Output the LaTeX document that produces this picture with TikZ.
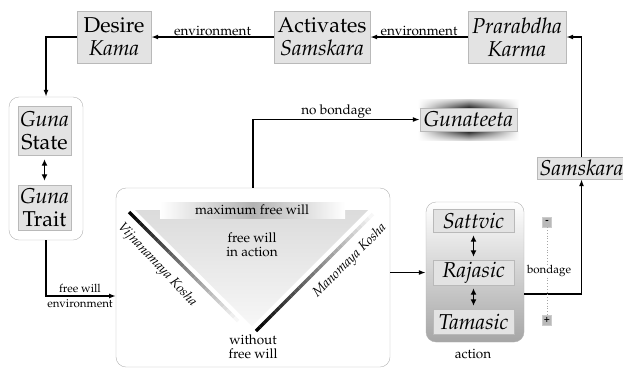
\documentclass[tikz,border=0pt]{standalone}
\usepackage[T1]{fontenc}
\usepackage{mathpazo}
\usetikzlibrary{arrows.meta,fadings,calc}
\tikzfading[name=fadelr, left color=transparent!100, right color=transparent!100, middle color=transparent!0]
\begin{document}
\begin{tikzpicture}[x=1pt,y=-1pt,
  gbox/.style={draw=gray!55, fill=gray!22, inner sep=0pt, align=center, font=\fontsize{21.5}{23}\selectfont},
  lbl/.style={font=\fontsize{13.5}{14.5}\selectfont, inner sep=1pt},
  slbl/.style={font=\fontsize{11.5}{12}\selectfont, inner sep=1pt},
  klbl/.style={font=\fontsize{13.5}{14}\selectfont\itshape, inner sep=0pt},
  arr/.style={-{Latex[length=7pt,width=5pt]}, line width=1.4pt},
  darr/.style={{Latex[length=6.5pt,width=6pt]}-{Latex[length=6.5pt,width=6pt]}, line width=1.5pt},
  rbox/.style={draw=gray!60, rounded corners=10pt, inner sep=0pt}]
\useasboundingbox (0,0) rectangle (623,368);

% top row
\node[gbox, minimum width=74pt, minimum height=52pt] (desire) at (114,37) {Desire\\ \textit{Kama}};
\node[gbox, minimum width=96pt, minimum height=52pt] (activ) at (322,37) {Activates\\ \textit{Samskara}};
\node[gbox, minimum width=98pt, minimum height=52pt] (prar) at (517,37) {\textit{Prarabdha}\\ \textit{Karma}};

\draw[arr] (prar.west) -- node[lbl, above] {environment} (activ.east);
\draw[arr] (activ.west) -- node[lbl, above] {environment} (desire.east);

% guna box
\node[rbox, fill=white, minimum width=74pt, minimum height=143pt] (guna) at (46,168.5) {};
\node[gbox, minimum width=53pt, minimum height=49pt] (gstate) at (44.5,130.5) {\textit{Guna}\\ State};
\node[gbox, minimum width=53pt, minimum height=45pt] (gtrait) at (44.5,207.5) {\textit{Guna}\\ Trait};
\draw[darr, shorten >=4pt, shorten <=4pt] (gstate) -- (gtrait);
\draw[arr] (desire.west) -| (guna.north);

% central box
\node[rbox, fill=white, minimum width=274pt, minimum height=179pt] (big) at (253,277.5) {};
\shade[top color=gray!28, bottom color=gray!6] (135,210) -- (368,210) -- (252,326) -- cycle;
\shade[left color=white, right color=white, middle color=gray!60] (160,202) rectangle (345,218);
\node[lbl] (maxfw) at (252,210) {maximum free will};
\node[lbl, align=center] (fwia) at (252,245) {free will\\ in action};
\node[lbl, align=center] (wofw) at (253,347) {without\\ free will};
\foreach \i [evaluate=\i as \c using 100-\i*100/30] in {0,...,29}{
  \draw[line width=3.5pt, black!\c] ($(129,212)!\i/30!(238,321)$) -- ($(129,212)!{(\i+1)/30}!(238,321)$);
  \draw[line width=3.5pt, black!\c] ($(256,331)!\i/30!(373,214)$) -- ($(256,331)!{(\i+1)/30}!(373,214)$);
}
\node[klbl, rotate=-47] (vij) at (157,265) {Vijnanamaya Kosha};
\node[klbl, rotate=45] (mano) at (350,261) {Manomaya Kosha};

\coordinate (fw) at (116,296);
\draw[arr] (guna.south) |- (fw);
\node[slbl] (fwl) at (80,288) {free will};
\node[slbl] (envl) at (80,304) {environment};

% gunateeta
\shade[top color=gray!35, bottom color=black!90, path fading=fadelr] (418,99) rectangle (519,108);
\shade[top color=black!90, bottom color=gray!35, path fading=fadelr] (418,131) rectangle (519,140);
\node[gbox, minimum width=97pt, minimum height=23pt] (gunat) at (468.5,119.5) {\textit{Gunateeta}};
\draw[arr] (big.north) |- node[lbl, above, pos=0.75] {no bondage} (gunat.west);

% action box
\node[rbox, draw=gray!60, top color=white, bottom color=gray!70, minimum width=98pt, minimum height=140pt] (abox) at (475,272) {};
\node[gbox, minimum width=81pt, minimum height=23pt] (sattvic) at (473.5,220.5) {\textit{Sattvic}};
\node[gbox, minimum width=81pt, minimum height=25pt] (rajasic) at (473.5,272.5) {\textit{Rajasic}};
\node[gbox, minimum width=81pt, minimum height=25pt] (tamasic) at (473.5,321.5) {\textit{Tamasic}};
\draw[darr, shorten >=3pt, shorten <=3pt] (sattvic) -- (rajasic);
\draw[darr, shorten >=3pt, shorten <=3pt] (rajasic) -- (tamasic);
\node[lbl] (actl) at (473,354) {action};
\draw[arr] (big.east |- rajasic) -- (abox.west |- rajasic);

% samskara
\node[gbox, minimum width=89pt, minimum height=22pt] (sams) at (581.5,168) {\textit{Samskara}};
\draw[arr] ([yshift=-22pt]abox.east) -| (sams.south);
\draw[arr] (sams.north) |- (prar.east);

% bondage scale
\node[draw=gray!40, fill=gray!55, minimum width=9pt, minimum height=10pt, inner sep=0pt, font=\bfseries] (minus) at (547,222) {-};
\node[draw=gray!40, fill=gray!55, minimum width=9pt, minimum height=10pt, inner sep=0pt, font=\bfseries] (plus) at (547,320) {+};
\draw[gray!70, dotted, line width=0.8pt] (minus) -- (plus);
\node[slbl, fill=white, inner sep=0.5pt] (bond) at (549,271) {bondage};
\end{tikzpicture}
\end{document}
